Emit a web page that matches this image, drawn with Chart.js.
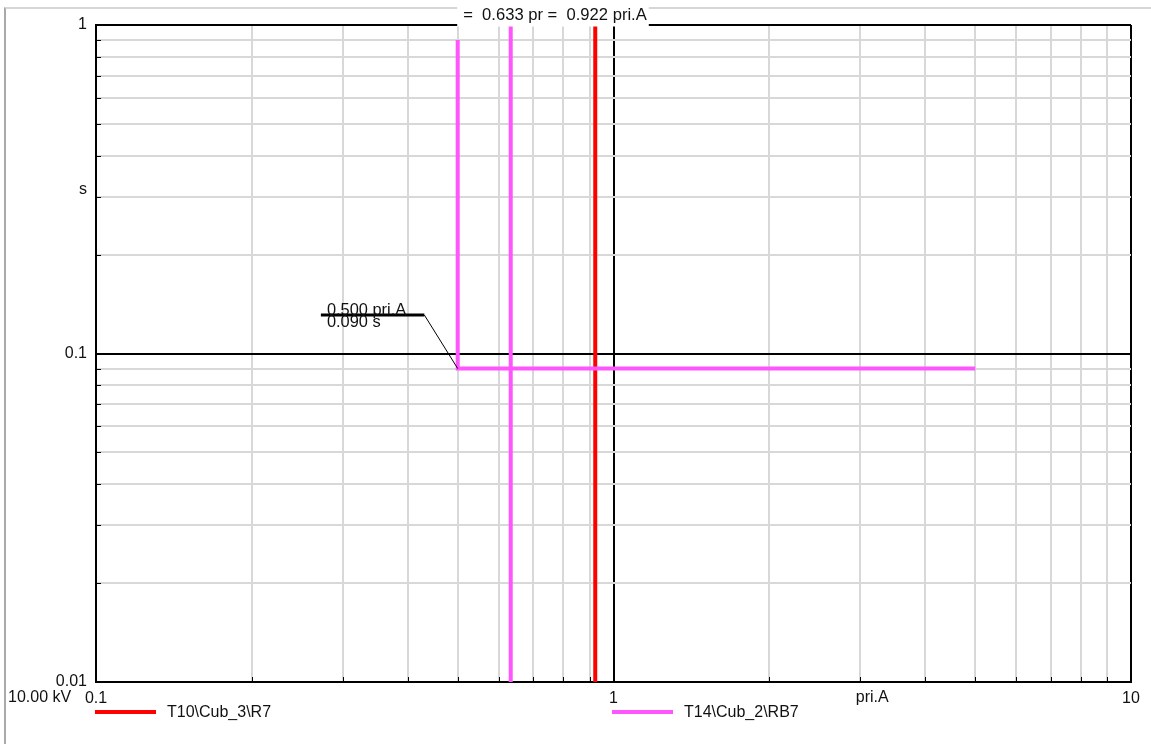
<!DOCTYPE html>
<html>
<head>
<meta charset="utf-8">
<title>Time-current characteristic</title>
<script src="https://cdn.jsdelivr.net/npm/chart.js@4.4.1/dist/chart.umd.min.js"></script>
<style>
  html, body { margin: 0; padding: 0; background: #fff; }
  #wrap { position: relative; width: 1151px; height: 744px; overflow: hidden;
          font-family: "Liberation Sans", Arial, sans-serif; }
  #frame { position: absolute; left: 4px; top: 7px; right: -10px; bottom: -10px;
           border-left: 2px solid #a9a9a9; border-top: 2px solid #d6d6d6; }
  #plot { position: absolute; left: 0; top: 0; }
  .leg { position: absolute; top: 703px; height: 18px; line-height: 18px;
         font-size: 16px; color: #111; white-space: nowrap; }
  .leg i { display: inline-block; width: 61px; height: 4px; margin-right: 11px;
           vertical-align: middle; position: relative; top: -1px; }
</style>
</head>
<body>
<div id="wrap">
  <div id="frame"></div>
  <canvas id="plot" width="1151" height="744"></canvas>
  <div class="leg" id="leg1" style="left:95px"><i></i><span></span></div>
  <div class="leg" id="leg2" style="left:612px"><i></i><span></span></div>
</div>
<script>
// ---- device names ----
const relayName  = 'T10\\Cub_3\\R7';
const backupName = 'T14\\Cub_2\\RB7';

// ---- characteristics (current in pri.A, time in s) ----
const relayCurrent  = [0.922, 0.922];     // R7 instantaneous pickup
const relayTime     = [1, 0.01];
const backupCurrent = [0.5, 0.5, 5];      // RB7 definite-time step
const backupTime    = [0.9, 0.09, 0.09];
const cursorCurrent = [0.633, 0.633];     // RB7 current cursor
const cursorTime    = [1, 0.01];

// ---- setting label leader (thick bar, then thin leader to the set point) ----
const leaderCurrent = [0.272, 0.431, 0.5];
const leaderTime    = [0.131, 0.131, 0.09];
const settingText   = ['0.500 pri.A', '0.090 s'];

// ---- axes ----
const xRange = [0.1, 10];
const yRange = [0.01, 1];
const xTickValues = [0.1, 1, 10];
const xTickLabels = ['0.1', '1', '10'];
const yTickValues = [0.01, 0.1, 1];
const yTickLabels = ['0.01', '0.1', '1'];
const xGridValues = [0.1, 0.2, 0.3, 0.4, 0.5, 0.6, 0.7, 0.8, 0.9,
                     1, 2, 3, 4, 5, 6, 7, 8, 9, 10];
const yGridValues = [0.01, 0.02, 0.03, 0.04, 0.05, 0.06, 0.07, 0.08, 0.09,
                     0.1, 0.2, 0.3, 0.4, 0.5, 0.6, 0.7, 0.8, 0.9, 1];
const xUnit = 'pri.A';
const yUnit = 's';
const voltageText = '10.00 kV';

const FONT = '"Liberation Sans", Arial, sans-serif';
const RED = '#ff0000';
const MAGENTA = '#ff55ff';

function pts(xs, ys) { return xs.map((x, i) => ({ x: x, y: ys[i] })); }
function isDecade(v) { const l = Math.log10(v); return Math.abs(l - Math.round(l)) < 1e-6; }
function labelFor(v, values, labels) {
  const i = values.findIndex(t => Math.abs(t - v) / t < 1e-6);
  return i < 0 ? '' : labels[i];
}
const gridColor = ctx => isDecade(ctx.tick.value) ? '#000' : '#d8d8d8';

// legend
document.querySelector('#leg1 i').style.background = RED;
document.querySelector('#leg1 span').textContent = relayName;
document.querySelector('#leg2 i').style.background = MAGENTA;
document.querySelector('#leg2 span').textContent = backupName;

const overlay = {
  id: 'overlay',
  beforeDatasetsDraw(chart) {
    const { ctx, chartArea: a, scales: { x, y } } = chart;
    ctx.save();
    ctx.strokeStyle = '#000';
    ctx.lineWidth = 1;
    ctx.beginPath();
    x.ticks.forEach(t => {
      const px = Math.round(x.getPixelForValue(t.value)) + 0.5;
      ctx.moveTo(px, a.bottom); ctx.lineTo(px, a.bottom - 5);
    });
    y.ticks.forEach(t => {
      const py = Math.round(y.getPixelForValue(t.value)) + 0.5;
      ctx.moveTo(a.left, py); ctx.lineTo(a.left + 5, py);
    });
    ctx.stroke();
    ctx.restore();
  },
  afterDatasetsDraw(chart) {
    const { ctx, chartArea: a, scales: { x, y } } = chart;
    ctx.save();
    ctx.fillStyle = '#111';

    // setting label next to the thick bar
    ctx.font = '16.4px ' + FONT;
    const lx = x.getPixelForValue(leaderCurrent[0]);
    const ly = y.getPixelForValue(leaderTime[0]);
    ctx.textAlign = 'left';
    ctx.textBaseline = 'alphabetic';
    ctx.fillText(settingText[0], lx + 6, ly + 0.5);
    ctx.fillText(settingText[1], lx + 6, ly + 12.5);

    // axis unit captions in the middle of the last decade
    ctx.font = '16px ' + FONT;
    ctx.textBaseline = 'middle';
    ctx.textAlign = 'right';
    ctx.fillText(yUnit, a.left - 9, y.getPixelForValue(Math.sqrt(yRange[0] * yRange[1] * 10)));
    ctx.textAlign = 'center';
    ctx.fillText(xUnit, x.getPixelForValue(Math.sqrt(xRange[1] * xRange[1] / 10)), a.bottom + 16);
    ctx.textAlign = 'left';
    ctx.fillText(voltageText, 8, a.bottom + 16);

    // current readout between the two vertical lines
    ctx.font = '16.6px ' + FONT;
    const txt = '=  ' + cursorCurrent[0].toFixed(3) + ' pr =  ' + relayCurrent[0].toFixed(3) + ' ' + xUnit;
    const w = ctx.measureText(txt).width;
    const cx = (x.getPixelForValue(cursorCurrent[0]) + x.getPixelForValue(relayCurrent[0])) / 2 + 2;
    ctx.fillStyle = '#fff';
    ctx.fillRect(cx - w / 2 - 6, 0, w + 8, a.top + 1.5);
    ctx.fillStyle = '#111';
    ctx.textAlign = 'center';
    ctx.fillText(txt, cx, 15.5);
    ctx.restore();
  }
};

const lineDs = (label, data, color, width) => ({
  label: label, data: data, showLine: true, borderColor: color, backgroundColor: color,
  borderWidth: width, pointRadius: 0, pointHoverRadius: 0, fill: false, tension: 0
});

new Chart(document.getElementById('plot'), {
  type: 'scatter',
  data: {
    datasets: [
      lineDs('leader', pts(leaderCurrent.slice(1), leaderTime.slice(1)), '#000', 1),
      lineDs('bar', pts(leaderCurrent.slice(0, 2), leaderTime.slice(0, 2)), '#000', 3),
      lineDs(backupName, pts(backupCurrent, backupTime), MAGENTA, 4),
      lineDs(backupName + ' cursor', pts(cursorCurrent, cursorTime), MAGENTA, 4),
      lineDs(relayName, pts(relayCurrent, relayTime), RED, 4)
    ]
  },
  options: {
    responsive: false,
    animation: false,
    devicePixelRatio: 1,
    layout: { padding: { left: 0, top: 25, right: 20, bottom: 0 } },
    plugins: { legend: { display: false }, tooltip: { enabled: false } },
    elements: { line: { borderCapStyle: 'butt', borderJoinStyle: 'miter' } },
    scales: {
      x: {
        type: 'logarithmic', min: xRange[0], max: xRange[1], position: 'bottom',
        afterFit: s => { s.height = 62; },
        afterBuildTicks: s => { s.ticks = xGridValues.map(v => ({ value: v })); },
        grid: { color: gridColor, lineWidth: 2, drawTicks: false },
        border: { display: true, color: '#000', width: 2 },
        ticks: {
          autoSkip: false, maxRotation: 0, minRotation: 0, padding: 7, color: '#111',
          font: { family: FONT, size: 16 },
          callback: v => labelFor(v, xTickValues, xTickLabels)
        }
      },
      y: {
        type: 'logarithmic', min: yRange[0], max: yRange[1], position: 'left',
        afterFit: s => { s.width = 96; },
        afterBuildTicks: s => { s.ticks = yGridValues.map(v => ({ value: v })); },
        grid: { color: gridColor, lineWidth: 2, drawTicks: false },
        border: { display: true, color: '#000', width: 2 },
        ticks: {
          autoSkip: false, padding: 9, color: '#111',
          font: { family: FONT, size: 16 },
          callback: v => labelFor(v, yTickValues, yTickLabels)
        }
      }
    }
  },
  plugins: [overlay]
});
</script>
</body>
</html>
